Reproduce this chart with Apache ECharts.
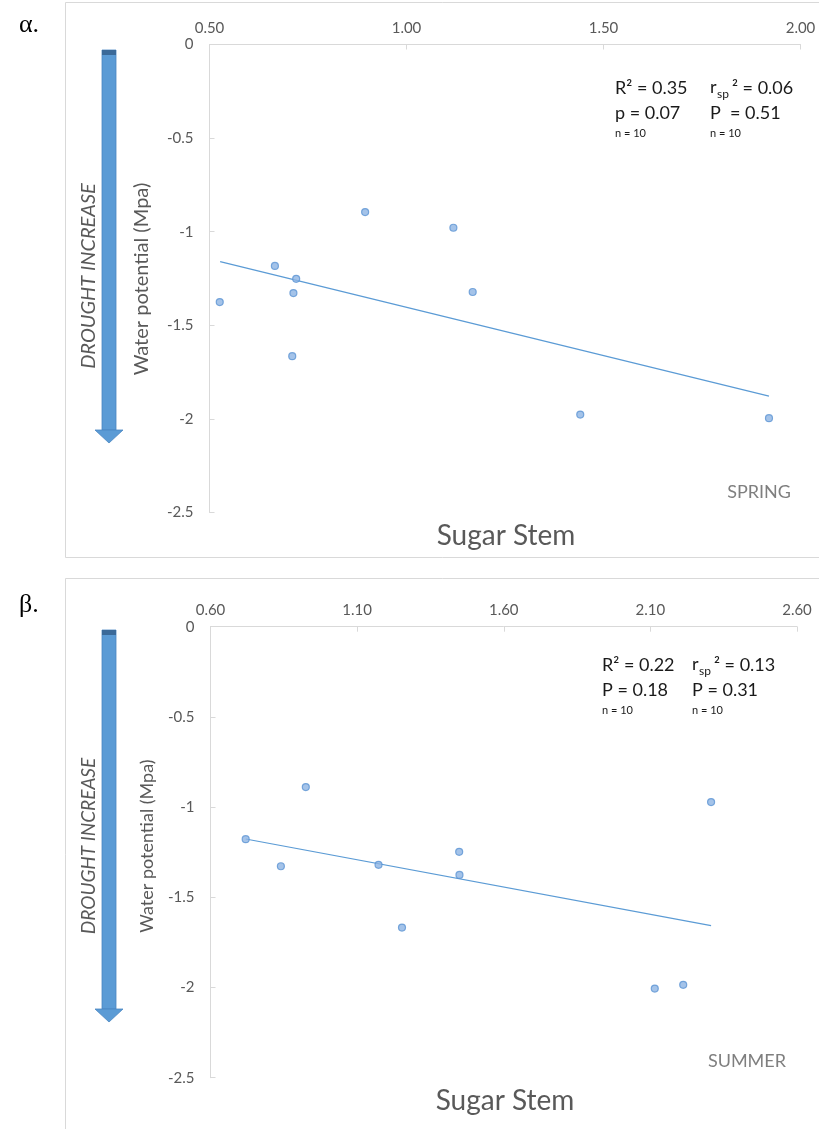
<!DOCTYPE html>
<html><head><meta charset="utf-8">
<script src="https://cdn.jsdelivr.net/npm/echarts@6/dist/echarts.min.js"></script>
<style>html,body{margin:0;padding:0;background:#fff}#c{width:819px;height:1129px}</style>
</head><body><div id="c"></div>
<script>
// Spring (α) panel: sugar stem vs water potential
const springX = [0.526, 0.666, 0.720, 0.713, 0.710, 0.895, 1.119, 1.168, 1.441, 1.920];
const springY = [-1.376, -1.183, -1.252, -1.328, -1.665, -0.895, -0.979, -1.322, -1.977, -1.996];
const springTrendX = [0.527, 1.920];
const springTrendY = [-1.16, -1.878];
// Summer (β) panel
const summerX = [0.720, 0.840, 0.925, 1.173, 1.253, 1.448, 1.449, 2.307, 2.115, 2.212];
const summerY = [-1.178, -1.328, -0.889, -1.320, -1.668, -1.248, -1.376, -0.972, -2.006, -1.985];
const summerTrendX = [0.720, 2.307];
const summerTrendY = [-1.177, -1.657];
// axis ranges
const springXAxis = {min: 0.5, max: 2.0, interval: 0.5};
const summerXAxis = {min: 0.6, max: 2.6, interval: 0.5};
const yAxisRange = {min: -2.5, max: 0, interval: 0.5};
const statsSpring = ['R² = 0.35', 'p = 0.07', 'n = 10', '² = 0.06', 'P  = 0.51', 'n = 10'];
const statsSummer = ['R² = 0.22', 'P = 0.18', 'n = 10', '² = 0.13', 'P = 0.31', 'n = 10'];

const FONT = 'Lato, "Open Sans", sans-serif';
const GRAY = '#595959';
const AX = '#d9d9d9';
const zip = (a, b) => a.map((v, i) => [v, b[i]]);

function xAx(idx, r) {
  return {
    gridIndex: idx, type: 'value', position: 'top', min: r.min, max: r.max, interval: r.interval,
    axisLine: {show: true, onZero: false, lineStyle: {color: AX, width: 1}},
    axisTick: {show: true, inside: true, length: 5, lineStyle: {color: AX}},
    splitLine: {show: false},
    axisLabel: {color: GRAY, fontFamily: FONT, fontSize: 15, margin: 9, formatter: v => v.toFixed(2)}
  };
}
function yAx(idx) {
  return {
    gridIndex: idx, type: 'value', min: yAxisRange.min, max: yAxisRange.max, interval: yAxisRange.interval,
    axisLine: {show: true, onZero: false, lineStyle: {color: AX, width: 1}},
    axisTick: {show: true, inside: true, length: 5, lineStyle: {color: AX}},
    splitLine: {show: false},
    axisLabel: {color: GRAY, fontFamily: FONT, fontSize: 15, margin: 16}
  };
}
const scatterStyle = {color: '#8db4e3', borderColor: '#5b93d3', borderWidth: 1.2};
function txt(x, y, text, size, color, opts) {
  opts = opts || {};
  return {
    type: 'text', x: x, y: y, rotation: opts.rot || 0, silent: true,
    style: {
      text: text, x: 0, y: 0, fill: color, fontSize: size, fontFamily: opts.family || FONT,
      fontStyle: opts.italic ? 'italic' : 'normal',
      align: opts.align || 'left', verticalAlign: 'middle',
      textAlign: opts.align || 'left', textVerticalAlign: 'middle'
    }
  };
}
function arrow(top, bottom) {
  const cx = 109;
  return [
    {type: 'rect', shape: {x: cx - 7, y: top, width: 14, height: bottom - top - 13}, style: {fill: '#5b9bd5', stroke: '#4a87c2', lineWidth: 0.8}, silent: true},
    {type: 'rect', shape: {x: cx - 7, y: top, width: 14, height: 5}, style: {fill: '#3b6a99'}, silent: true},
    {type: 'polygon', shape: {points: [[cx - 14, bottom - 13], [cx + 14, bottom - 13], [cx, bottom]]}, style: {fill: '#5b9bd5', stroke: '#4a87c2', lineWidth: 0.8}, silent: true}
  ];
}
function stats(x1, x2, y, s) {
  return [
    txt(x1, y, s[0], 18, '#1a1a1a'),
    txt(x1, y + 25, s[1], 18, '#1a1a1a'),
    txt(x1, y + 45, s[2], 11, '#1a1a1a'),
    txt(x2, y - 1, 'r', 18, '#1a1a1a'),
    txt(x2 + 7, y + 6, 'sp', 12, '#1a1a1a'),
    txt(x2 + 22, y, s[3], 18, '#1a1a1a'),
    txt(x2, y + 25, s[4], 18, '#1a1a1a'),
    txt(x2, y + 45, s[5], 11, '#1a1a1a')
  ];
}

const graphics = [
  {type: 'rect', shape: {x: 65.5, y: 2.5, width: 760, height: 555}, style: {fill: 'none', stroke: '#d9d9d9', lineWidth: 1}, silent: true},
  {type: 'rect', shape: {x: 65.5, y: 578.5, width: 760, height: 560}, style: {fill: 'none', stroke: '#d9d9d9', lineWidth: 1}, silent: true},
  txt(19, 25, 'α.', 26, '#000', {family: '"Liberation Serif", "DejaVu Serif", serif'}),
  txt(19, 605, 'β.', 26, '#000', {family: '"Liberation Serif", "DejaVu Serif", serif'}),
  ...arrow(50, 443),
  ...arrow(630, 1022),
  txt(89, 276, 'DROUGHT INCREASE', 20, GRAY, {rot: Math.PI / 2, align: 'center', italic: true}),
  txt(142, 279, 'Water potential (Mpa)', 20, GRAY, {rot: Math.PI / 2, align: 'center'}),
  txt(89, 846, 'DROUGHT INCREASE', 19, GRAY, {rot: Math.PI / 2, align: 'center', italic: true}),
  txt(147, 846, 'Water potential (Mpa)', 18, GRAY, {rot: Math.PI / 2, align: 'center'}),
  txt(506, 536, 'Sugar Stem', 28, GRAY, {align: 'center'}),
  txt(505, 1101, 'Sugar Stem', 28, GRAY, {align: 'center'}),
  txt(791, 492, 'SPRING', 18, '#7f7f7f', {align: 'right'}),
  txt(786, 1061, 'SUMMER', 18, '#7f7f7f', {align: 'right'}),
  ...stats(615, 710, 88, statsSpring),
  ...stats(602, 692, 665, statsSummer)
];

const chart = echarts.init(document.getElementById('c'), null, {renderer: 'canvas'});
chart.setOption({
  animation: false,
  backgroundColor: '#fff',
  grid: [
    {left: 209.5, right: 18.5, top: 44.5, height: 468},
    {left: 210.5, right: 22, top: 626.7, height: 451}
  ],
  xAxis: [xAx(0, springXAxis), xAx(1, summerXAxis)],
  yAxis: [yAx(0), yAx(1)],
  series: [
    {type: 'line', xAxisIndex: 0, yAxisIndex: 0, data: zip(springTrendX, springTrendY), showSymbol: false, symbol: 'none', lineStyle: {color: '#5b9bd5', width: 1.2}, z: 2},
    {type: 'scatter', xAxisIndex: 0, yAxisIndex: 0, data: zip(springX, springY), symbolSize: 7, itemStyle: scatterStyle, z: 3},
    {type: 'line', xAxisIndex: 1, yAxisIndex: 1, data: zip(summerTrendX, summerTrendY), showSymbol: false, symbol: 'none', lineStyle: {color: '#5b9bd5', width: 1.2}, z: 2},
    {type: 'scatter', xAxisIndex: 1, yAxisIndex: 1, data: zip(summerX, summerY), symbolSize: 7, itemStyle: scatterStyle, z: 3}
  ],
  graphic: graphics
});
</script>
</body></html>
